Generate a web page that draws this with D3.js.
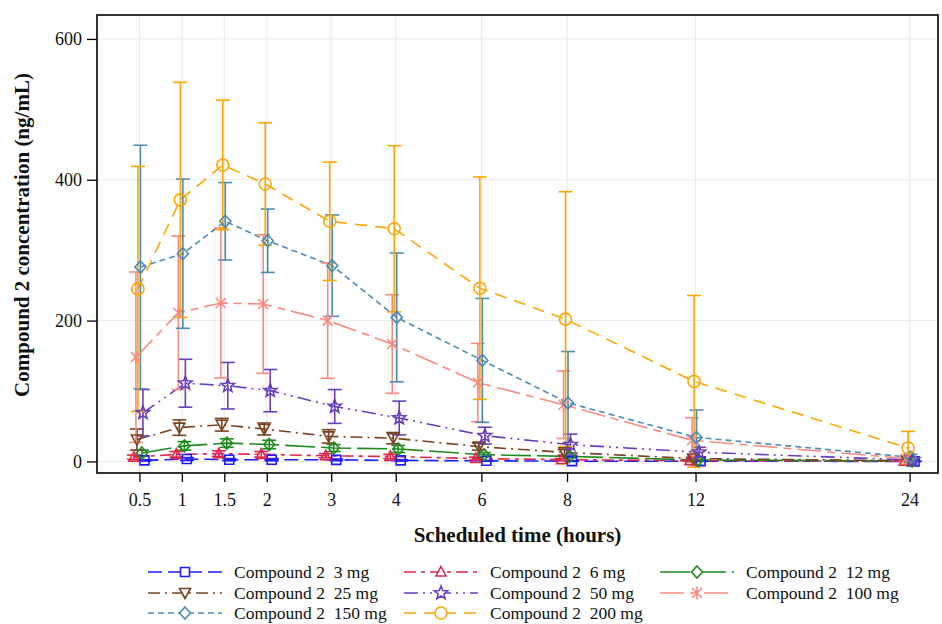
<!DOCTYPE html>
<html>
<head>
<meta charset="utf-8">
<script src="https://cdn.jsdelivr.net/npm/d3@7"></script>
<style>
  body { margin: 0; background: #fff; }
  svg { display: block; }
  text { font-family: "Liberation Serif", "Times New Roman", serif; fill: #111; }
</style>
</head>
<body>
<svg id="chart" width="942" height="624"></svg>
<script>
// Scheduled sampling times (hours) and axis ticks
const times = [0.5, 1, 1.5, 2, 3, 4, 6, 8, 12, 24];
const yTicks = [0, 200, 400, 600];

// Dose groups
const doses = ["3 mg", "6 mg", "12 mg", "25 mg", "50 mg", "100 mg", "150 mg", "200 mg"];

// Mean concentration (ng/mL) and SD per dose group, one value per scheduled time
const mean3   = [1.5, 3.4, 2.4, 2.4, 2.2, 1.4, 0.8, 0.3, 0.2, 0.0];
const sd3     = [1.0, 2.0, 1.5, 1.5, 1.2, 1.0, 0.6, 0.3, 0.2, 0.0];
const mean6   = [6, 10, 11, 10, 8, 7, 4, 2.5, 1, 0.2];
const sd6     = [3, 4, 4, 4, 3, 3, 2, 1.5, 0.8, 0.2];
const mean12  = [12, 22, 26, 24, 19, 17.6, 9.5, 7, 2, 0.5];
const sd12    = [4, 6, 6, 6, 5, 5, 3, 2, 1, 0.3];
const mean25  = [31, 48, 52, 46, 35.5, 33, 21, 12.8, 4, 1];
const sd25    = [15, 11, 9, 8.5, 9.5, 8, 5, 4, 2, 0.5];
const mean50  = [69, 111, 107.5, 100.5, 78, 61.6, 36.5, 23.7, 13, 2];
const sd50    = [33, 34, 33, 30, 24, 24, 12, 15, 7, 1];
const mean100 = [148, 211, 225, 223.5, 200, 166.7, 112, 80.5, 30, 4];
const sd100   = [121, 109, 106.6, 98.5, 82, 70, 55.6, 48, 32, 4];
const mean150 = [276, 295, 341, 313.4, 278, 204.5, 143.4, 83, 34, 6];
const sd150   = [173, 106, 55, 45, 72, 91.5, 88, 73, 39, 4];
const mean200 = [245, 371.4, 421, 394, 341, 330.4, 246, 202, 113.6, 19];
const sd200   = [174, 167, 92, 87, 84, 118, 158, 181, 122, 23.6];

const means = [mean3, mean6, mean12, mean25, mean50, mean100, mean150, mean200];
const sds   = [sd3, sd6, sd12, sd25, sd50, sd100, sd150, sd200];

// Appearance of each dose group
const colors  = ["#1C1CFF", "#E0264E", "#1F8A1F", "#7B4220", "#6A3DBE", "#FA8A7E", "#4C8BB2", "#FFA500"];
const dashes  = ["14,6", "12,5,4,5", "30,6", "12,5,2,5", "14,5,2,5,2,5", "24,6,8,6", "6,4", "12,8"];
const symbols = ["square", "triangle", "diamond", "triangledown", "star", "asterisk", "diamond", "circle"];
const nudges  = [5, -5.5, 2.5, -2.5, 3.5, -3.5, 1, -1.5];   // horizontal cluster shift (px)

const svg = d3.select("#chart");
const plot = { left: 97, top: 15, right: 938, bottom: 473 };
const pw = plot.right - plot.left;

// Time axis: piecewise spacing between the labelled times
const x = d3.scaleLinear()
  .domain([0, 2, 4, 8, 12, 24, 25.6])
  .range([0, 0.2018, 0.3552, 0.5589, 0.7117, 0.9662, 1].map(f => plot.left + f * pw));

const y = d3.scaleLinear().domain([-16.5, 634]).range([plot.bottom, plot.top]);

// Grid
const grid = svg.append("g").attr("stroke", "#e9e9e9").attr("stroke-width", 1);
grid.selectAll("line.gx").data(times).join("line")
  .attr("x1", d => x(d)).attr("x2", d => x(d))
  .attr("y1", plot.top).attr("y2", plot.bottom);
grid.selectAll("line.gy").data(yTicks).join("line")
  .attr("x1", plot.left).attr("x2", plot.right)
  .attr("y1", d => y(d)).attr("y2", d => y(d));

// Symbols
function symbolPath(type) {
  switch (type) {
    case "square": return "M-4.5,-4.5H4.5V4.5H-4.5Z";
    case "triangle": return "M0,-5.5L5,4L-5,4Z";
    case "diamond": return "M0,-6L5.5,0L0,6L-5.5,0Z";
    case "triangledown": return "M-5.5,-4.5L5.5,-4.5L0,5.5Z";
    case "circle": return "M6,0A6,6 0 1,1 -6,0A6,6 0 1,1 6,0Z";
    case "asterisk": return "M-5,-5L5,5M-5,5L5,-5M0,-6.5V6.5";
    case "star": {
      const pts = [];
      for (let i = 0; i < 10; i++) {
        const r = i % 2 === 0 ? 7 : 3;
        const a = -Math.PI / 2 + i * Math.PI / 5;
        pts.push([r * Math.cos(a), r * Math.sin(a)]);
      }
      return "M" + pts.map(p => p[0].toFixed(2) + "," + p[1].toFixed(2)).join("L") + "Z";
    }
  }
}

const series = doses.map((d, i) => ({
  dose: d,
  color: colors[i], dash: dashes[i], symbol: symbols[i], nudge: nudges[i],
  pts: times.map((t, j) => ({ t, m: means[i][j], sd: sds[i][j] }))
}));

svg.append("clipPath").attr("id", "clip").append("rect")
  .attr("x", plot.left).attr("y", plot.top).attr("width", pw).attr("height", plot.bottom - plot.top);

const data = svg.append("g").attr("clip-path", "url(#clip)");

const line = s => d3.line().x(d => x(d.t) + s.nudge).y(d => y(d.m));

// Mean profiles
data.selectAll("path.profile").data(series).join("path")
  .attr("fill", "none")
  .attr("stroke", s => s.color)
  .attr("stroke-width", 1.6)
  .attr("stroke-dasharray", s => s.dash)
  .attr("d", s => line(s)(s.pts));

// Error bars (mean +/- SD)
series.forEach(s => {
  const g = data.append("g").attr("stroke", s.color).attr("stroke-width", 1.6).attr("fill", "none");
  s.pts.forEach(p => {
    const cx = x(p.t) + s.nudge;
    const y1 = y(p.m + p.sd), y0 = y(p.m - p.sd);
    g.append("line").attr("x1", cx).attr("x2", cx).attr("y1", y1).attr("y2", y0);
    g.append("line").attr("x1", cx - 7).attr("x2", cx + 7).attr("y1", y1).attr("y2", y1);
    g.append("line").attr("x1", cx - 7).attr("x2", cx + 7).attr("y1", y0).attr("y2", y0);
  });
});
// Markers at the means
series.forEach(s => {
  data.append("g").selectAll("path").data(s.pts).join("path")
    .attr("d", symbolPath(s.symbol))
    .attr("transform", d => `translate(${x(d.t) + s.nudge},${y(d.m)})`)
    .attr("fill", "none").attr("stroke", s.color).attr("stroke-width", 1.6);
});

// Axes
const xAxis = svg.append("g").attr("transform", `translate(0,${plot.bottom})`)
  .call(d3.axisBottom(x).tickValues(times).tickFormat(d3.format("")).tickSize(9).tickPadding(11));
const yAxis = svg.append("g").attr("transform", `translate(${plot.left},0)`)
  .call(d3.axisLeft(y).tickValues(yTicks).tickSize(10).tickPadding(5));
[xAxis, yAxis].forEach(a => {
  a.select(".domain").remove();
  a.selectAll(".tick line").attr("stroke", "#000").attr("stroke-width", 1.3);
  a.selectAll(".tick text").attr("font-size", 18).attr("fill", "#222")
    .attr("font-family", '"Liberation Serif","Times New Roman",serif');
});

// Frame
svg.append("rect")
  .attr("x", plot.left).attr("y", plot.top).attr("width", pw).attr("height", plot.bottom - plot.top)
  .attr("fill", "none").attr("stroke", "#000").attr("stroke-width", 1.6);

// Axis titles
svg.append("text")
  .attr("x", (plot.left + plot.right) / 2).attr("y", 542)
  .attr("text-anchor", "middle").attr("font-size", 21).attr("font-weight", "bold")
  .text("Scheduled time (hours)");
svg.append("text")
  .attr("transform", `translate(29,${(plot.top + plot.bottom) / 2 - 9}) rotate(-90)`)
  .attr("text-anchor", "middle").attr("font-size", 21).attr("font-weight", "bold")
  .text("Compound 2 concentration (ng/mL)");

// Legend: three columns, filled row by row
const legendCols = [148, 404, 660];
const legendRows = [572, 593, 613];
const legend = svg.append("g");
series.forEach((s, i) => {
  const lx = legendCols[i % 3], ly = legendRows[Math.floor(i / 3)];
  const g = legend.append("g").attr("transform", `translate(${lx},${ly})`);
  g.append("line").attr("x1", 0).attr("x2", 74).attr("y1", 0).attr("y2", 0)
    .attr("stroke", s.color).attr("stroke-width", 1.6).attr("stroke-dasharray", s.dash);
  g.append("path").attr("d", symbolPath(s.symbol)).attr("transform", "translate(37,0)")
    .attr("fill", "#fff").attr("stroke", s.color).attr("stroke-width", 1.6);
  g.append("text").attr("x", 86).attr("y", 6).attr("font-size", 17.5)
    .attr("xml:space", "preserve").style("white-space", "pre")
    .text("Compound 2  " + s.dose);
});
</script>
</body>
</html>
